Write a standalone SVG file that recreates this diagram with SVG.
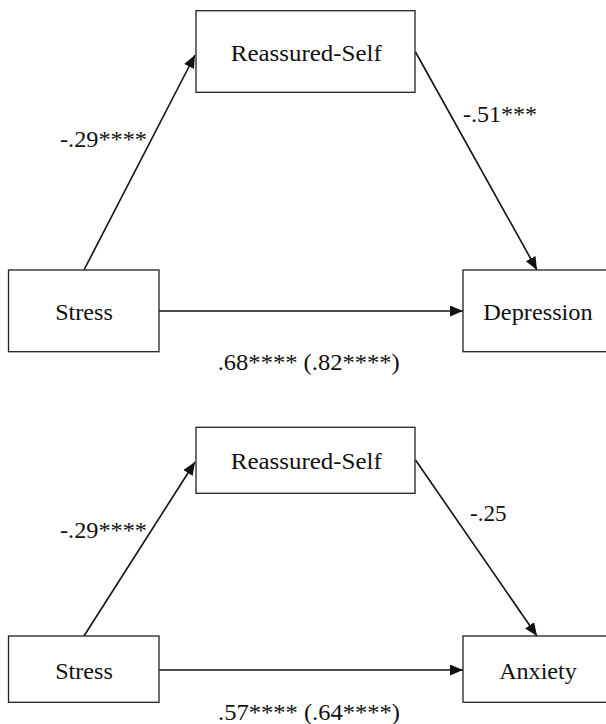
<svg xmlns="http://www.w3.org/2000/svg" width="606" height="724" viewBox="0 0 606 724">
<style>
.box{fill:#fff;stroke:#222;stroke-width:1.3}
.t{font-family:"Liberation Serif","DejaVu Serif",serif;font-size:24px;fill:#111}
.c{text-anchor:middle}
.e{stroke:#111;stroke-width:1.6;fill:none;marker-end:url(#ah)}
</style>
<defs>
<marker id="ah" markerUnits="userSpaceOnUse" markerWidth="14" markerHeight="12" refX="13" refY="5.5" orient="auto" viewBox="0 0 14 12">
<path d="M0,0 L13,5.5 L0,11 z" fill="#111"/>
</marker>
</defs>
<g id="connectors">
<line class="e" x1="84" y1="270" x2="195" y2="55"/>
<line class="e" x1="415.5" y1="52" x2="537" y2="270"/>
<line class="e" x1="159" y1="311" x2="463" y2="311"/>
<line class="e" x1="84" y1="636" x2="195" y2="462"/>
<line class="e" x1="415.5" y1="460" x2="537" y2="636"/>
<line class="e" x1="159" y1="670" x2="463" y2="670"/>
<text class="t" x="60" y="147" textLength="87" lengthAdjust="spacingAndGlyphs">-.29****</text>
<text class="t" x="463" y="122" textLength="74" lengthAdjust="spacingAndGlyphs">-.51***</text>
<text class="t c" x="308.7" y="370" textLength="182" lengthAdjust="spacingAndGlyphs">.68**** (.82****)</text>
<text class="t" x="60" y="538" textLength="87" lengthAdjust="spacingAndGlyphs">-.29****</text>
<text class="t" x="470" y="521" textLength="36.5" lengthAdjust="spacingAndGlyphs">-.25</text>
<text class="t c" x="309" y="720" textLength="182" lengthAdjust="spacingAndGlyphs">.57**** (.64****)</text>
</g>
<g id="reassured1"><rect class="box" x="196" y="10.7" width="219" height="81.6"/><text class="t c" x="306.3" y="61" textLength="151" lengthAdjust="spacingAndGlyphs">Reassured-Self</text></g>
<g id="stress1"><rect class="box" x="8.5" y="270" width="150.5" height="81.7"/><text class="t c" x="84" y="320" textLength="57.7" lengthAdjust="spacingAndGlyphs">Stress</text></g>
<g id="depression"><rect class="box" x="463" y="270" width="160" height="81.7"/><text class="t c" x="538" y="320" textLength="109.4" lengthAdjust="spacingAndGlyphs">Depression</text></g>
<g id="reassured2"><rect class="box" x="196" y="427.3" width="219" height="66"/><text class="t c" x="306.3" y="469" textLength="151" lengthAdjust="spacingAndGlyphs">Reassured-Self</text></g>
<g id="stress2"><rect class="box" x="8.5" y="636" width="150.5" height="66.3"/><text class="t c" x="84" y="679" textLength="57.7" lengthAdjust="spacingAndGlyphs">Stress</text></g>
<g id="anxiety"><rect class="box" x="463" y="636" width="160" height="66.3"/><text class="t c" x="538" y="679" textLength="77.7" lengthAdjust="spacingAndGlyphs">Anxiety</text></g>
</svg>
